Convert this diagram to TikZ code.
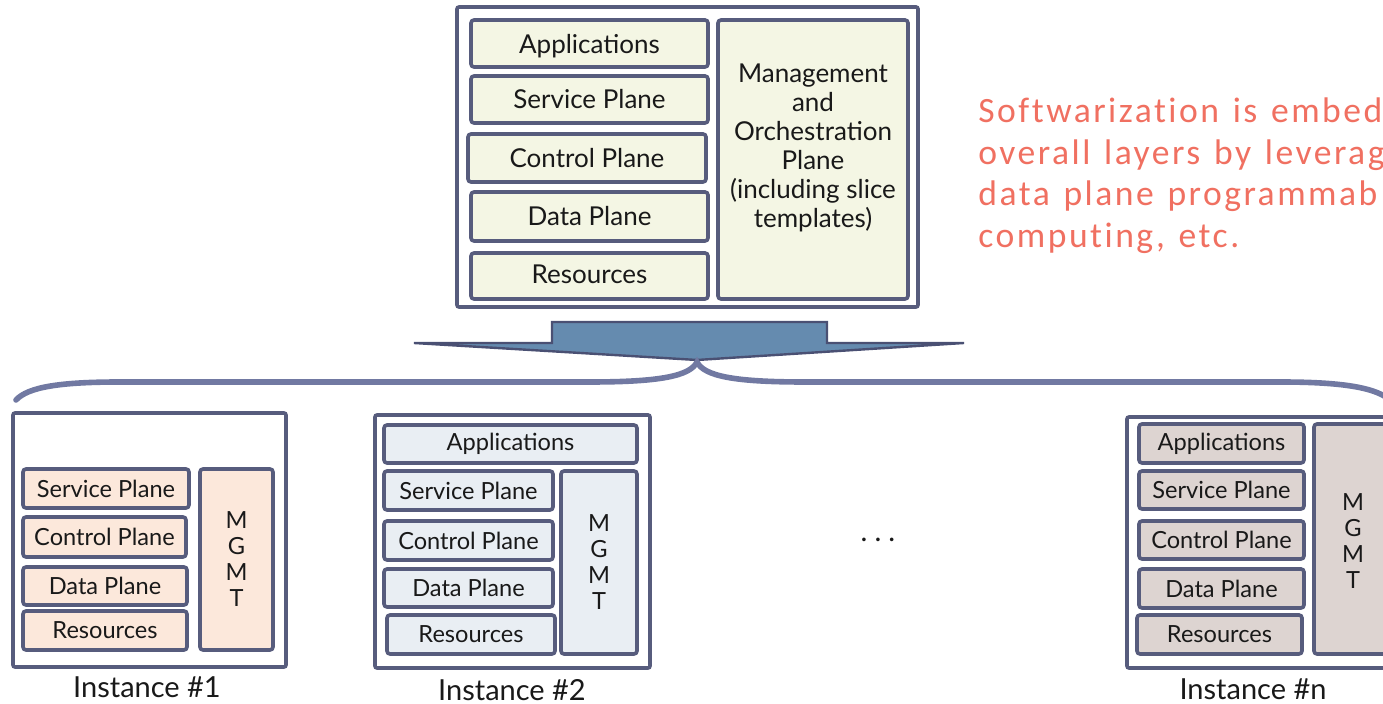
\documentclass[tikz,border=0pt]{standalone}
\usepackage{fontspec}
\setmainfont{Lato}
\newfontfamily\notefont[LetterSpace=7,WordSpace=1.3,Ligatures=NoCommon]{Carlito}
\usetikzlibrary{positioning}

\definecolor{edge}{HTML}{575C7D}
\definecolor{topfill}{HTML}{F4F6E4}
\definecolor{onefill}{HTML}{FCE8DB}
\definecolor{twofill}{HTML}{E9EEF3}
\definecolor{nfill}{HTML}{DDD4D1}
\definecolor{arrowfill}{HTML}{658BAF}
\definecolor{arrowedge}{HTML}{4A5073}
\definecolor{bracecol}{HTML}{7179A2}
\definecolor{notecol}{HTML}{F07061}

\tikzset{
  frame/.style={draw=edge, line width=1.8pt, rounded corners=1pt, fill=white},
  layer/.style={draw=edge, line width=1.8pt, rounded corners=1.5pt},
  biglbl/.style={font=\fontsize{13}{14.5}\selectfont, text=black!90},
  lbl/.style={font=\fontsize{11.8}{13}\selectfont, text=black!90},
  caption/.style={font=\fontsize{14.5}{16}\selectfont, text=black!90, inner sep=1pt},
  note/.style={font=\notefont\fontsize{17.8}{21}\selectfont, text=notecol, anchor=base west, inner sep=0pt},
}

\begin{document}
\begin{tikzpicture}[x=0.5pt,y=-0.5pt]
  \useasboundingbox (0,0) rectangle (1383,704);
  \clip (0,0) rectangle (1383,704);

  % slice template
  \draw[frame] (457,7) rectangle (918,307);
  \draw[layer,fill=topfill] (471,20) rectangle (708,67) node[midway,biglbl,yshift=-1.5pt] (tapp) {Applications};
  \draw[layer,fill=topfill] (471,76) rectangle (708,123) node[midway,biglbl] (tsrv) {Service Plane};
  \draw[layer,fill=topfill] (468,134) rectangle (706,182) node[midway,biglbl] (tctl) {Control Plane};
  \draw[layer,fill=topfill] (471,192) rectangle (708,241) node[midway,biglbl] (tdata) {Data Plane};
  \draw[layer,fill=topfill] (471,253) rectangle (708,299) node[midway,biglbl,yshift=1pt] (tres) {Resources};
  \draw[layer,fill=topfill] (718,20) rectangle (908,299);
  \node[biglbl,align=center] (tmgmt) at (813,148)
    {Management\\and\\Orchestration\\Plane\\(including slice\\templates)};

  % note
  \node[note] (note1) at (978,123) {Softwarization is embed};
  \node[note] (note2) at (978,165) {overall layers by leverag};
  \node[note] (note3) at (978,206) {data plane programmab};
  \node[note] (note4) at (978,248) {computing, etc.};

  % arrow and brace
  \draw[draw=arrowedge, fill=arrowfill, line width=1.2pt]
    (414,343) -- (552,343) -- (552,322) -- (827,322) -- (827,343) -- (964,343) -- (697,360) -- cycle;
  \draw[bracecol, line width=2.8pt, line cap=round]
    (16,400) .. controls (28,387) and (60,382) .. (120,382) -- (590,382)
    .. controls (660,382) and (690,376) .. (697,362)
    .. controls (704,376) and (734,382) .. (804,382) -- (1280,382)
    .. controls (1340,382) and (1378,387) .. (1392,402);

  % instance 1
  \draw[frame] (13,413) rectangle (286,667);
  \draw[layer,fill=onefill] (23,469) rectangle (189,508) node[midway,lbl] (asrv) {Service Plane};
  \draw[layer,fill=onefill] (23,517) rectangle (186,557) node[midway,lbl] (actl) {Control Plane};
  \draw[layer,fill=onefill] (23,567) rectangle (187,605) node[midway,lbl] (adata) {Data Plane};
  \draw[layer,fill=onefill] (23,611) rectangle (187,650) node[midway,lbl] (ares) {Resources};
  \draw[layer,fill=onefill] (200,469) rectangle (273,650) node[midway,lbl,align=center] (amgmt) {M\\G\\M\\T};
  \node[caption] (acap) at (147,687) {Instance \#1};

  % instance 2
  \draw[frame] (375,415) rectangle (650,668);
  \draw[layer,fill=twofill] (384,425) rectangle (637,463) node[midway,lbl] (bapp) {Applications};
  \draw[layer,fill=twofill] (384,471) rectangle (553,510) node[midway,lbl] (bsrv) {Service Plane};
  \draw[layer,fill=twofill] (384,521) rectangle (553,560) node[midway,lbl] (bctl) {Control Plane};
  \draw[layer,fill=twofill] (384,569) rectangle (553,607) node[midway,lbl] (bdata) {Data Plane};
  \draw[layer,fill=twofill] (387,615) rectangle (555,654) node[midway,lbl] (bres) {Resources};
  \draw[layer,fill=twofill] (561,471) rectangle (637,654) node[midway,lbl,align=center] (bmgmt) {M\\G\\M\\T};
  \node[caption] (bcap) at (512,690) {Instance \#2};

  \node[caption] (dots) at (878,540) {.\hspace{3.5pt}.\hspace{3.5pt}.};

  % instance n
  \draw[frame] (1127,417) rectangle (1400,668);
  \draw[layer,fill=nfill] (1139,424) rectangle (1304,463) node[midway,lbl] (napp) {Applications};
  \draw[layer,fill=nfill] (1139,471) rectangle (1304,509) node[midway,lbl] (nsrv) {Service Plane};
  \draw[layer,fill=nfill] (1139,521) rectangle (1304,559) node[midway,lbl] (nctl) {Control Plane};
  \draw[layer,fill=nfill] (1139,569) rectangle (1304,608) node[midway,lbl] (ndata) {Data Plane};
  \draw[layer,fill=nfill] (1137,615) rectangle (1302,654) node[midway,lbl] (nres) {Resources};
  \draw[layer,fill=nfill] (1314,424) rectangle (1392,654);
  \node[lbl,align=center] (nmgmt) at (1353,541) {M\\G\\M\\T};
  \node[caption] (ncap) at (1253,689) {Instance \#n};
\end{tikzpicture}
\end{document}
